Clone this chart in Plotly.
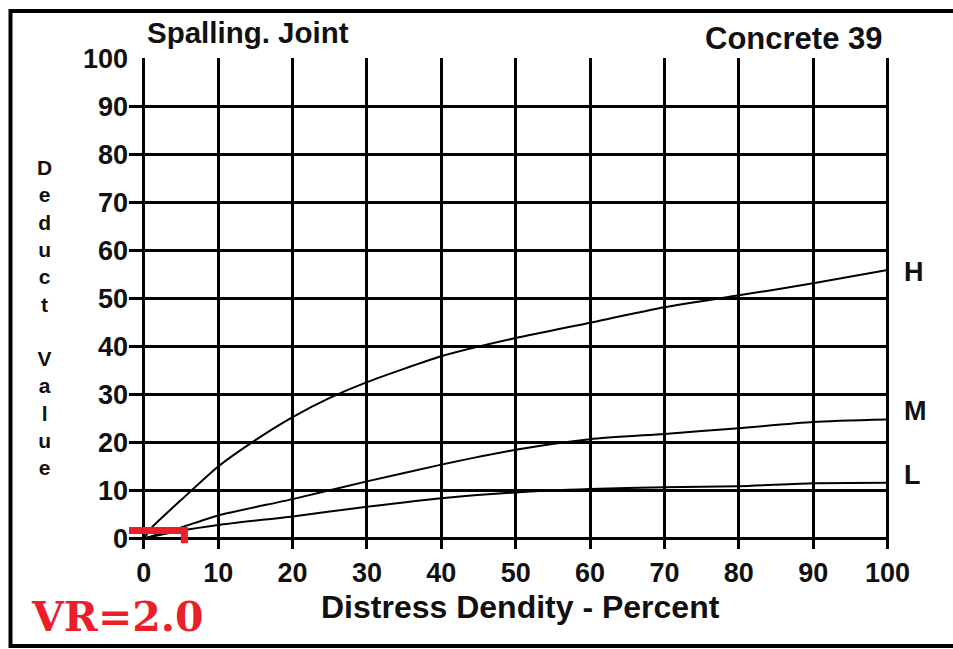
import plotly.graph_objects as go

# ---- data ----
h_x = [0, 1.2, 5, 10, 15, 20, 25, 30, 40, 50, 60, 70, 80, 90, 100]
h_y = [0, 2.5, 8, 15, 20.5, 25.3, 29.3, 32.6, 38, 41.8, 45, 48.2, 50.7, 53.2, 56]

m_x = [0, 5, 10, 20, 30, 40, 50, 60, 70, 80, 90, 100]
m_y = [0, 2.3, 4.8, 8.2, 11.9, 15.4, 18.5, 20.7, 21.8, 23, 24.3, 24.8]

l_x = [0, 5, 10, 20, 30, 40, 50, 60, 70, 80, 90, 100]
l_y = [0, 1.6, 2.8, 4.6, 6.6, 8.4, 9.6, 10.3, 10.7, 10.9, 11.5, 11.6]

vr_x = [-2, 5.45, 5.45]
vr_y = [1.65, 1.65, -1.0]

tick_vals = [0, 10, 20, 30, 40, 50, 60, 70, 80, 90, 100]
tick_text = [str(v) for v in tick_vals]

curve_labels = ["H", "M", "L"]

W, H = 953, 649
ML, MR, MT, MB = 129, 64, 58, 100
PW, PH = W - ML - MR, H - MT - MB


def px(x):
    return (x - ML) / PW


def py(y):
    return (H - MB - y) / PH


FONT = "Liberation Sans, Arial, sans-serif"

fig = go.Figure()
for xs, ys in [(h_x, h_y), (m_x, m_y), (l_x, l_y)]:
    fig.add_trace(go.Scatter(x=xs, y=ys, mode="lines",
                             line=dict(color="black", width=2, shape="spline", smoothing=0.6),
                             showlegend=False, hoverinfo="skip"))
fig.add_trace(go.Scatter(x=vr_x, y=vr_y, mode="lines",
                         line=dict(color="#ea1f29", width=7),
                         showlegend=False, hoverinfo="skip"))

axis_common = dict(
    tickvals=tick_vals, ticktext=tick_text,
    showgrid=True, gridcolor="black", gridwidth=2.5,
    zeroline=True, zerolinecolor="black", zerolinewidth=2.5,
    showline=False, ticks="",
    tickfont=dict(family=FONT, size=27, color="#111", weight="bold"),
)

fig.update_xaxes(range=[-2, 100.2], ticklabelstandoff=5, **axis_common)
fig.update_yaxes(range=[-2.2, 100.2], ticklabelstandoff=0, **axis_common)

ann = []
ann.append(dict(text="Spalling. Joint", x=px(248), y=py(33), xref="paper", yref="paper",
                showarrow=False, font=dict(family=FONT, size=29.5, color="#111", weight="bold"),
                xanchor="center", yanchor="middle"))
ann.append(dict(text="Concrete 39", x=px(884), y=py(38), xref="paper", yref="paper",
                showarrow=False, font=dict(family=FONT, size=31, color="#111", weight="bold"),
                xanchor="right", yanchor="middle"))
ann.append(dict(text="Distress Dendity - Percent", x=px(520), y=py(607), xref="paper", yref="paper",
                showarrow=False, font=dict(family=FONT, size=32, color="#111", weight="bold"),
                xanchor="center", yanchor="middle"))
ann.append(dict(text="<br>".join(list("Deduct")) + "<br><br>" + "<br>".join(list("Value")),
                x=px(44), y=py(317), xref="paper", yref="paper",
                showarrow=False, font=dict(family=FONT, size=21, color="#111", weight="bold"),
                xanchor="center", yanchor="middle"))
ann.append(dict(text="VR=2.0", x=px(117), y=py(617), xref="paper", yref="paper",
                showarrow=False, font=dict(family="DejaVu Serif, serif", size=41, color="#ea1f29", weight="bold"),
                xanchor="center", yanchor="middle"))
for lab, yy in zip(curve_labels, [272, 411, 475]):
    ann.append(dict(text=lab, x=px(902), y=py(yy), xref="paper", yref="paper",
                    showarrow=False, font=dict(family=FONT, size=27, color="#111", weight="bold"),
                    xanchor="left", yanchor="middle"))

fig.update_layout(
    width=W, height=H,
    margin=dict(l=ML, r=MR, t=MT, b=MB),
    paper_bgcolor="white", plot_bgcolor="white",
    annotations=ann,
    shapes=[dict(type="rect", xref="paper", yref="paper",
                 x0=px(10.5), x1=px(965), y0=py(11), y1=py(646),
                 line=dict(color="black", width=4), fillcolor="rgba(0,0,0,0)", layer="above")],
)

fig.write_html("out.html")
